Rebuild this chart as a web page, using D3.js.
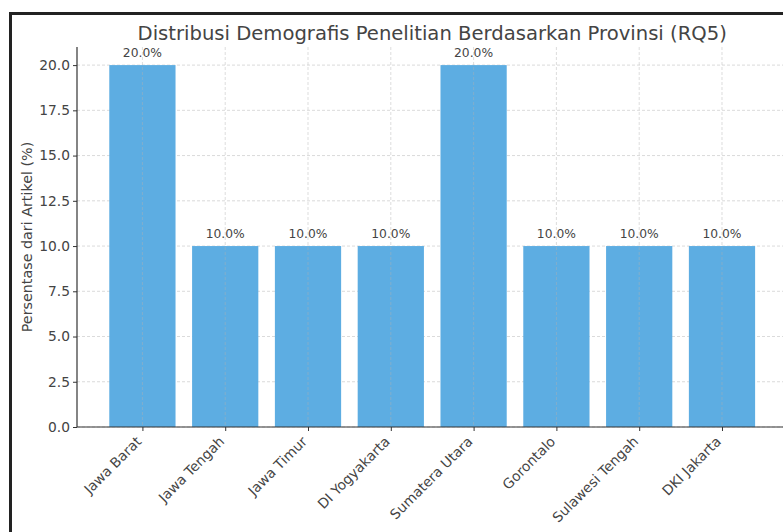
<!DOCTYPE html>
<html><head><meta charset="utf-8">
<script src="https://cdn.jsdelivr.net/npm/d3@7"></script>
<style>body{margin:0;background:#fff;} svg{display:block;font-family:"DejaVu Sans",sans-serif;}</style>
</head><body>
<svg id="c" width="783" height="532"></svg>
<script>
const categories = ["Jawa Barat","Jawa Tengah","Jawa Timur","DI Yogyakarta","Sumatera Utara","Gorontalo","Sulawesi Tengah","DKI Jakarta"];
const values = [20,10,10,10,20,10,10,10];
const yTicks = [0,2.5,5,7.5,10,12.5,15,17.5,20];
const title = "Distribusi Demografis Penelitian Berdasarkan Provinsi (RQ5)";
const yLabel = "Persentase dari Artikel (%)";

const svg = d3.select("#c");
// frame
svg.append("rect").attr("x",10.5).attr("y",13.5).attr("width",800).attr("height",600)
  .attr("fill","#fff").attr("stroke","#222").attr("stroke-width",3);

const L = 77, R = 787.4, T = 47, B = 427;
const n = categories.length;
const x = d3.scaleLinear().domain([-0.79, n - 1 + 0.79]).range([L, R]);
const y = d3.scaleLinear().domain([0, 21]).range([B, T]);
const bw = x(0.8) - x(0);

const g = svg.append("g");
// horizontal grid
g.selectAll("line.hg").data(yTicks).join("line")
  .attr("x1",L).attr("x2",R).attr("y1",d=>y(d)).attr("y2",d=>y(d))
  .attr("stroke","#d0d0d0").attr("stroke-width",0.8).attr("stroke-dasharray","3,2");
// bars
g.selectAll("rect.bar").data(values).join("rect")
  .attr("x",(d,i)=>x(i)-bw/2).attr("width",bw)
  .attr("y",d=>y(d)).attr("height",d=>B-y(d))
  .attr("fill","#5DADE2");
// vertical grid (on top, faint)
g.selectAll("line.vg").data(categories).join("line")
  .attr("x1",(d,i)=>x(i)).attr("x2",(d,i)=>x(i)).attr("y1",T).attr("y2",B)
  .attr("stroke","#b0b0b0").attr("stroke-opacity",0.55).attr("stroke-width",0.8).attr("stroke-dasharray","3,2");
// value labels
g.selectAll("text.val").data(values).join("text")
  .attr("x",(d,i)=>x(i)).attr("y",d=>y(d)-8)
  .attr("text-anchor","middle").attr("font-size",12.3).attr("fill","#444")
  .text(d=>d.toFixed(1)+"%");

// y axis
const yAxis = d3.axisLeft(y).tickValues(yTicks).tickFormat(d3.format(".1f")).tickSize(4).tickPadding(3);
const ya = svg.append("g").attr("transform",`translate(${L},0)`).call(yAxis);
ya.select(".domain").attr("stroke","#333").attr("stroke-width",1.2).attr("d",`M-0,${B}V${T}`);
ya.selectAll(".tick line").attr("stroke","#333");
ya.selectAll("text").attr("font-size",13.8).attr("fill","#444").attr("font-family","DejaVu Sans");

// x axis
const xAxis = d3.axisBottom(x).tickValues(d3.range(n)).tickFormat(i=>categories[i]).tickSize(4).tickPadding(3);
const xa = svg.append("g").attr("transform",`translate(0,${B})`).call(xAxis);
xa.select(".domain").attr("stroke","#333").attr("stroke-width",1.2).attr("d",`M${L},0H${R}`);
xa.selectAll(".tick line").attr("stroke","#333");
xa.selectAll("text").attr("font-size",13.8).attr("fill","#444").attr("font-family","DejaVu Sans")
  .attr("text-anchor","end").attr("dy","0.35em")
  .attr("transform","translate(-4,12) rotate(-45)").attr("x",0).attr("y",0);

// title
svg.append("text").attr("x",(L+R)/2).attr("y",40).attr("text-anchor","middle")
  .attr("font-size",19.6).attr("fill","#444").text(title);
// y label
svg.append("text").attr("transform",`translate(32,${(T+B)/2}) rotate(-90)`)
  .attr("text-anchor","middle").attr("font-size",14.3).attr("fill","#444").text(yLabel);
</script>
</body></html>
